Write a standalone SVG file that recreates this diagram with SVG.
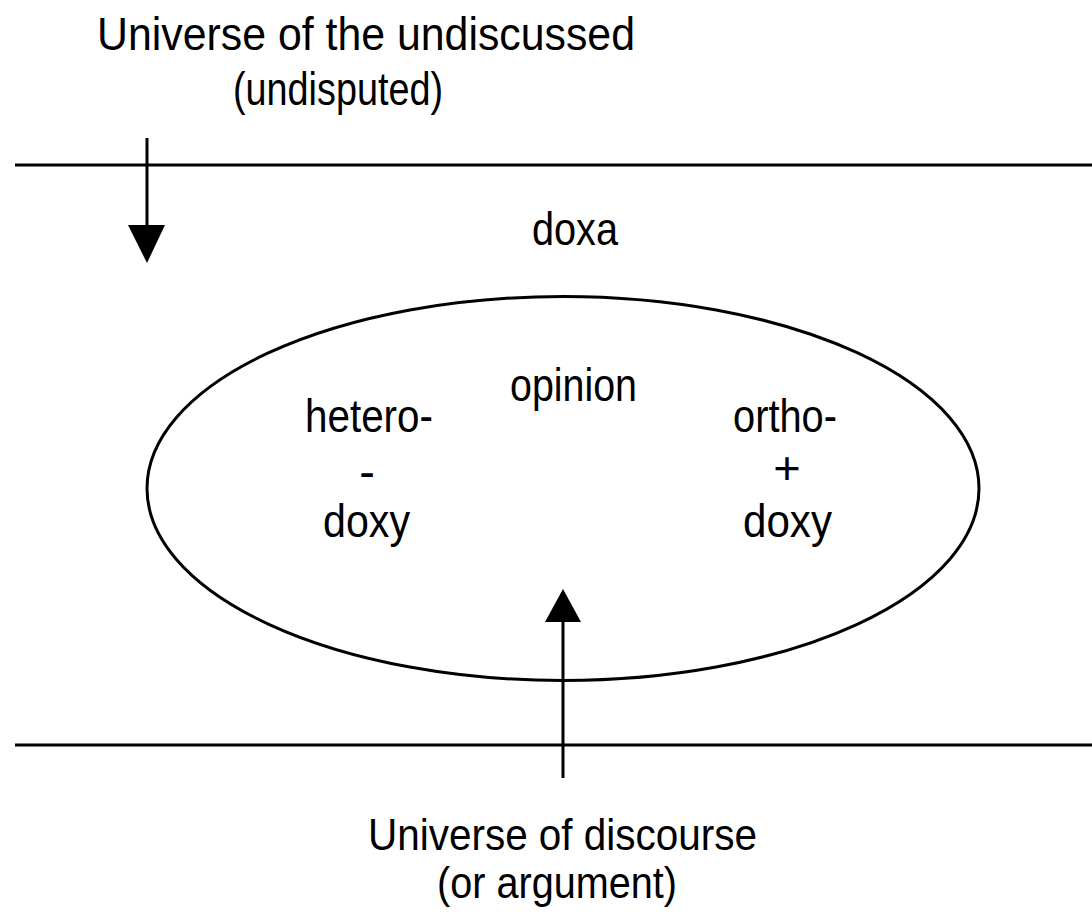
<svg xmlns="http://www.w3.org/2000/svg" width="1092" height="914" viewBox="0 0 1092 914">
<style>
.t{font-family:"Liberation Sans",Arial,sans-serif;font-size:47px;fill:#000}
.b{font-size:44px}
.ln{stroke:#000;stroke-width:3;fill:none}
.ah{fill:#000;stroke:none}
</style>
<rect width="1092" height="914" fill="#fff"/>
<g id="labels">
<text class="t" x="97" y="50" textLength="538" lengthAdjust="spacingAndGlyphs">Universe of the undiscussed</text>
<text class="t" x="233" y="105" textLength="210" lengthAdjust="spacingAndGlyphs">(undisputed)</text>
<text class="t" x="532" y="245" textLength="86" lengthAdjust="spacingAndGlyphs">doxa</text>
<text class="t b" x="368" y="850" textLength="389" lengthAdjust="spacingAndGlyphs">Universe of discourse</text>
<text class="t b" x="437" y="898" textLength="240" lengthAdjust="spacingAndGlyphs">(or argument)</text>
</g>
<g id="boundaries">
<line class="ln" x1="15" y1="165" x2="1092" y2="165"/>
<line class="ln" x1="15" y1="745" x2="1092" y2="745"/>
</g>
<g id="opinion">
<ellipse class="ln" cx="563" cy="488.5" rx="416" ry="192"/>
<text class="t" x="510" y="401" textLength="127" lengthAdjust="spacingAndGlyphs">opinion</text>
</g>
<g id="heterodoxy">
<text class="t" x="305" y="432" textLength="128" lengthAdjust="spacingAndGlyphs">hetero-</text>
<text class="t" x="367" y="488" text-anchor="middle">-</text>
<text class="t" x="323" y="537" textLength="87" lengthAdjust="spacingAndGlyphs">doxy</text>
</g>
<g id="orthodoxy">
<text class="t" x="733" y="432" textLength="104" lengthAdjust="spacingAndGlyphs">ortho-</text>
<text class="t" x="787" y="484" text-anchor="middle">+</text>
<text class="t" x="743" y="537" textLength="89" lengthAdjust="spacingAndGlyphs">doxy</text>
</g>
<g id="connectors">
<line class="ln" x1="147" y1="138" x2="147" y2="228"/>
<polygon class="ah" points="128,225 165,225 147,263"/>
<line class="ln" x1="563" y1="778" x2="563" y2="618"/>
<polygon class="ah" points="545,622 581,622 563,589"/>
</g>
</svg>
